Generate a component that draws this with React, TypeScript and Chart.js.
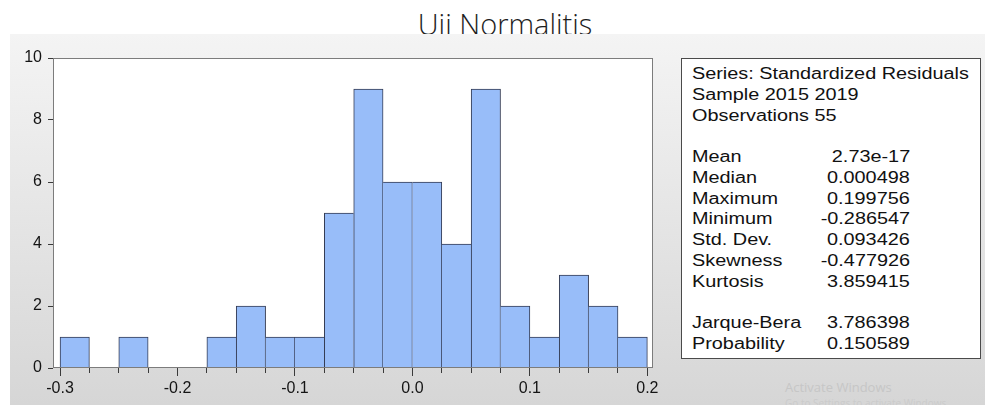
import React, { useEffect, useRef } from "react";
import { Chart, registerables } from "chart.js";

Chart.register(...registerables);

// ---- data ----
const binCenters = [
  -0.2875, -0.2625, -0.2375, -0.2125, -0.1875, -0.1625, -0.1375, -0.1125, -0.0875, -0.0625,
  -0.0375, -0.0125, 0.0125, 0.0375, 0.0625, 0.0875, 0.1125, 0.1375, 0.1625, 0.1875,
];
const counts = [1, 0, 1, 0, 0, 1, 2, 1, 1, 5, 9, 6, 6, 4, 9, 2, 1, 3, 2, 1];
const xMajorTicks = [-0.3, -0.2, -0.1, 0, 0.1, 0.2];
const xMinorTicks = [
  -0.3, -0.275, -0.25, -0.225, -0.2, -0.175, -0.15, -0.125, -0.1, -0.075, -0.05,
  -0.025, 0, 0.025, 0.05, 0.075, 0.1, 0.125, 0.15, 0.175, 0.2,
];
const yTicks = [0, 2, 4, 6, 8, 10];

const titleText = "Uji Normalitis";
const statsHeader = ["Series: Standardized Residuals", "Sample 2015 2019", "Observations 55"];
const statLabels = ["Mean", "Median", "Maximum", "Minimum", "Std. Dev.", "Skewness", "Kurtosis"];
const statValues = ["2.73e-17", "0.000498", "0.199756", "-0.286547", "0.093426", "-0.477926", "3.859415"];
const testLabels = ["Jarque-Bera", "Probability"];
const testValues = ["3.786398", "0.150589"];

const X_MIN = -0.306;
const X_MAX = 0.2048;

const framePlugin = {
  id: "frame",
  beforeDraw(chart: any) {
    const { ctx, chartArea } = chart;
    const { left, top, right, bottom } = chartArea;
    ctx.save();
    ctx.fillStyle = "#ffffff";
    ctx.fillRect(left, top, right - left, bottom - top);
    ctx.restore();
  },
  afterDraw(chart: any) {
    const { ctx, chartArea } = chart;
    const l = Math.round(chartArea.left) + 0.5;
    const t = Math.round(chartArea.top) + 0.5;
    const r = Math.round(chartArea.right) - 0.5;
    const b = Math.round(chartArea.bottom) - 0.5;
    ctx.save();
    ctx.strokeStyle = "#7c7c7c";
    ctx.lineWidth = 1;
    ctx.strokeRect(l, t, r - l, b - t);
    ctx.restore();
  },
};

const tickFont = { family: "Arial, 'Liberation Sans', sans-serif", size: 16 };

function HistChart() {
  const ref = useRef<HTMLCanvasElement | null>(null);
  useEffect(() => {
    if (!ref.current) return;
    const chart = new Chart(ref.current, {
      type: "bar",
      data: {
        datasets: [
          {
            data: binCenters.map((x, i) => ({ x, y: counts[i] })),
            backgroundColor: "#98bdf9",
            borderColor: "#343c54",
            borderWidth: (c: any) => {
              const i = c.dataIndex;
              const v = counts[i];
              const prev = i > 0 ? counts[i - 1] : 0;
              const next = i < counts.length - 1 ? counts[i + 1] : 0;
              return {
                top: 1,
                bottom: 0,
                left: prev < v ? 1 : 0,
                right: next <= v ? 1 : 0,
              };
            },
            borderSkipped: false,
            barPercentage: 1,
            categoryPercentage: 1,
            xAxisID: "x",
            yAxisID: "y",
          } as any,
        ],
      },
      options: {
        animation: false,
        responsive: false,
        maintainAspectRatio: false,
        layout: { padding: { top: 24, right: 17, left: 0, bottom: 0 } },
        plugins: {
          legend: { display: false },
          tooltip: { enabled: false },
          title: { display: false },
        },
        scales: {
          x: {
            type: "linear",
            position: "bottom",
            weight: 1,
            min: X_MIN,
            max: X_MAX,
            bounds: "data",
            offset: false,
            afterBuildTicks: (s: any) => {
              s.ticks = xMajorTicks.map((v) => ({ value: v }));
            },
            afterFit: (s: any) => {
              s.height = 37;
            },
            ticks: {
              autoSkip: false,
              maxRotation: 0,
              padding: 3,
              color: "#141414",
              font: tickFont,
              callback: (v: any) => (Math.abs(Number(v)) < 1e-9 ? "0.0" : Number(v).toFixed(1)),
            },
            grid: { offset: false, drawOnChartArea: false, drawTicks: true, tickLength: 8, color: "#3a3a3a" },
            border: { display: false },
          },
          x2: {
            type: "linear",
            axis: "x",
            position: "bottom",
            weight: 0,
            min: X_MIN,
            max: X_MAX,
            bounds: "data",
            offset: false,
            afterBuildTicks: (s: any) => {
              s.ticks = xMinorTicks.map((v) => ({ value: v }));
            },
            afterFit: (s: any) => {
              s.height = 0;
            },
            ticks: { autoSkip: false, maxRotation: 0, padding: 0, callback: () => "" },
            grid: { offset: false, drawOnChartArea: false, drawTicks: true, tickLength: 5, color: "#3a3a3a" },
            border: { display: false },
          },
          y: {
            type: "linear",
            min: 0,
            max: 10,
            afterBuildTicks: (s: any) => {
              s.ticks = yTicks.map((v) => ({ value: v }));
            },
            afterFit: (s: any) => {
              s.width = 53;
            },
            ticks: { padding: 6, color: "#141414", font: tickFont },
            grid: { drawOnChartArea: false, drawTicks: true, tickLength: 5, color: "#3a3a3a" },
            border: { display: false },
          },
        } as any,
      },
      plugins: [framePlugin],
    } as any);
    return () => chart.destroy();
  }, []);
  return (
    <canvas
      ref={ref}
      width={670}
      height={371}
      style={{ position: "absolute", left: 0, top: 34, width: 670, height: 371 }}
    />
  );
}

const ROW_H = 20.75;
const rowTop = (i: number) => 5 + i * ROW_H;
const statFont: React.CSSProperties = {
  fontFamily: "Arial, 'Liberation Sans', sans-serif",
  fontSize: 16,
  lineHeight: "20px",
  color: "#111",
  whiteSpace: "nowrap",
};
const SX = 1.24;

function Label({ i, text }: { i: number; text: string }) {
  return (
    <div
      style={{
        ...statFont,
        position: "absolute",
        left: 10,
        top: rowTop(i),
        transform: `scaleX(${SX})`,
        transformOrigin: "left top",
      }}
    >
      {text}
    </div>
  );
}

function Value({ i, text }: { i: number; text: string }) {
  return (
    <div
      style={{
        ...statFont,
        position: "absolute",
        right: 298 - 228,
        top: rowTop(i),
        textAlign: "right",
        transform: `scaleX(${SX})`,
        transformOrigin: "right top",
      }}
    >
      {text}
    </div>
  );
}

export default function App() {
  return (
    <div
      style={{
        position: "absolute",
        left: 0,
        top: 0,
        width: 985,
        height: 405,
        overflow: "hidden",
        background: "#ffffff",
      }}
    >
      <div
        style={{
          position: "absolute",
          left: 505,
          top: 9,
          transform: "translateX(-50%)",
          fontFamily: "'Open Sans', 'Noto Sans', sans-serif",
          fontWeight: 300,
          fontSize: 29,
          lineHeight: 1,
          color: "#1e1e1e",
          whiteSpace: "nowrap",
        }}
      >
        {titleText}
      </div>
      <div
        style={{
          position: "absolute",
          left: 10,
          top: 34,
          width: 975,
          height: 371,
          background: "linear-gradient(#f4f4f4, #d6d6d6)",
        }}
      />
      <HistChart />
      <div
        style={{
          position: "absolute",
          left: 681,
          top: 58,
          width: 300,
          height: 301,
          boxSizing: "border-box",
          border: "1px solid #4a4a4a",
          background: "#ffffff",
        }}
      >
        {statsHeader.map((t, k) => (
          <Label key={"h" + k} i={k} text={t} />
        ))}
        {statLabels.map((t, k) => (
          <Label key={"l" + k} i={4 + k} text={t} />
        ))}
        {statValues.map((t, k) => (
          <Value key={"v" + k} i={4 + k} text={t} />
        ))}
        {testLabels.map((t, k) => (
          <Label key={"tl" + k} i={12 + k} text={t} />
        ))}
        {testValues.map((t, k) => (
          <Value key={"tv" + k} i={12 + k} text={t} />
        ))}
      </div>
      <div
        style={{
          position: "absolute",
          left: 785,
          top: 379,
          fontFamily: "'Open Sans', 'Noto Sans', sans-serif",
          fontSize: 13,
          lineHeight: "16px",
          color: "#c6c6c6",
          whiteSpace: "nowrap",
        }}
      >
        Activate Windows
      </div>
      <div
        style={{
          position: "absolute",
          left: 785,
          top: 397,
          fontFamily: "'Open Sans', 'Noto Sans', sans-serif",
          fontSize: 10,
          lineHeight: "12px",
          color: "#cbcbcb",
          whiteSpace: "nowrap",
        }}
      >
        Go to Settings to activate Windows.
      </div>
    </div>
  );
}
